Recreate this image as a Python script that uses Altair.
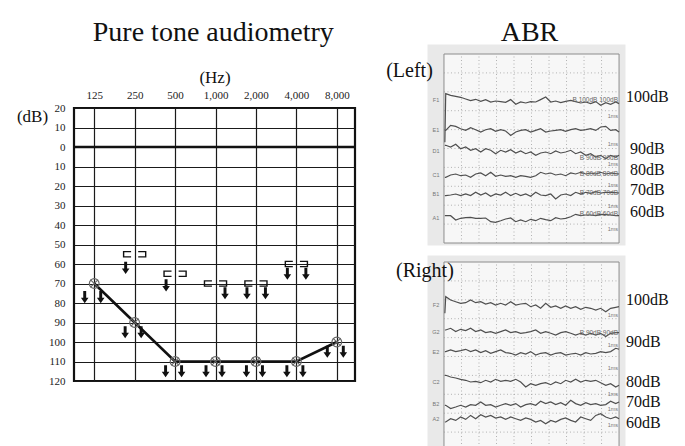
import altair as alt
import pandas as pd

SERIF = "Liberation Serif"

# ---------------- Pure tone audiometry data ----------------
freq_labels = ["125", "250", "500", "1,000", "2,000", "4,000", "8,000"]
freq_octave = [0, 1, 2, 3, 4, 5, 6]
air_db = [70, 90, 110, 110, 110, 110, 100]

bone_octave = [1, 2, 3, 4, 5]
bone_db = [55, 65, 70, 70, 60]

air_arrow_octave = [0, 1, 2, 3, 4, 5, 6]
air_arrow_db = [77, 95, 115, 115, 115, 115, 105]

bone_arrow_octave = [1, 2, 3, 4, 4, 5, 5]
bone_arrow_db = [62, 71, 75, 75, 75, 65, 65]
bone_arrow_side = ["L", "L", "R", "L", "R", "L", "R"]

db_ticks = [-20, -10, 0, 10, 20, 30, 40, 50, 60, 70, 80, 90, 100, 110, 120]

# ---------------- ABR data ----------------
abr_time = [0.05, 0.1, 0.38, 0.67, 0.95, 1.24, 1.52, 1.81, 2.1, 2.38, 2.67, 2.95,
            3.24, 3.52, 3.81, 4.1, 4.38, 4.67, 4.95, 5.24, 5.52, 5.81, 6.1, 6.38,
            6.67, 6.95, 7.24, 7.52, 7.81, 8.1, 8.38, 8.67, 8.95, 9.24, 9.52, 9.81, 10.0]

left_names = ["F1", "E1", "D1", "C1", "B1", "A1"]
left_base = [142.7, 113.3, 92, 68, 48.7, 25]
left_traces = [
    [-42, 6.7, 5, 4, 3, 1.3, -0.3, 1, -1, 0.7, -1.7, -0.7, -1.3, -2, 0.7, -4, -1.7, -2.7, -1.3,
     -1.7, 0.7, 3.3, -1.7, -0.7, -2.3, -1, 0, -1.3, -2.7, -1.7, -3.3, -1.3, -5, -2.3, -4, -1.7, -3.3],
    [-0.7, -0.7, 4.3, 3.3, 1, -0.7, 2, 0, -2.3, 0, 1, -1.7, 0, -1.3, -5.7, -2.3, -0.7, 0, -2.3,
     -0.7, 1, -2.3, -1.3, -0.7, 0, -1.7, 0, 1, -0.7, 0, 1, -0.7, 2.7, 3.3, -0.7, 0, -2.3],
    [5.7, 5.7, 4, 6.7, 2.3, 4, 0.7, 2.3, -1, 2.3, 0.7, -2.7, 0.7, -1, 1.3, -2, 0, -2.7, -1,
     -4.3, -2, -1, -2.7, 0, -2, -1, 0.7, -2.7, -1, -4.3, -2.7, -6, -4.3, -7.7, -4.3, -6, -4.3],
    [-2.3, -2.3, 0, 1, -0.7, 0, -2.3, 1, 2, -0.7, 2.7, -1.3, 0, -1.3, -0.7, -2.3, -0.7, -1.3,
     -2.3, -0.7, 2.7, 1, 2, 0, 1, -0.7, 2, 1, 2.7, 1, 2, 1, 2.7, 1, 2, 1.3, 1],
    [-1.3, -1.3, -0.7, 0.3, -1.3, 0.3, -1.3, 2, -0.7, 1.3, -2, 0.3, -0.7, 2, -1.3, 1, -1.3, 0.3,
     -2, 2, -0.7, -1.3, 0.3, -4.7, -0.7, 0.3, -1.3, 2, 0.3, 2, 1, 2.7, 1.3, 2, 2, 1.7, 1.3],
    [2.3, 2.3, 2.3, -2, -0.3, 0.3, 0.7, -0.3, -0.3, 0, -3.7, -4.3, -2.7, -1, 0, -3.7, -2, -3.7,
     -1.3, -2.7, -0.3, -1.7, -2.7, 0.3, -1, -0.3, 1.3, 3.7, 2.3, 3, 3, 2.3, 3.7, 3.3, 3, 2.3, 2.3],
]

right_names = ["F2", "G2", "E2", "C2", "B2", "A2"]
right_base = [146, 118.7, 98.7, 69, 46.7, 32.3]
right_traces = [
    [-8.3, 8.3, 5, 3.3, 1.7, 2.3, 5, 2.3, 3.3, 1, 2.3, 0, 1.7, 0, 3.3, 0, 1, 1.7, -1.7, 0, -3.3,
     1.7, -2.3, -1, -3.3, -1, -3.3, -1.7, -4.3, -2.3, -3.3, -5, -3.3, -6.7, -3.3, -2.3, -1.7],
    [2.3, 2.3, 4, 0.7, 3, 1.7, 4, 0.7, 2.3, -0.3, 0.7, -1, 0.7, 2.3, -0.3, 0.7, -1, -0.3, 0.7,
     2.3, -1, 0.7, -1, -2.7, -0.3, 0.7, -1, -2.7, -1, -2.7, -1, -2.7, -1, -4.3, -1, -0.3, -0.3],
    [0.7, 0.7, 2.3, 0.7, 1.7, 3, 0.7, 2.3, -0.3, 1.7, -1, 0.7, 2.3, -0.3, -1, -2.7, -0.3, -1.7,
     0.7, -2.7, -1, -0.3, -2.7, -1, -0.3, -2.7, -1.7, -1, -2.7, -0.3, -1.7, -1, 0.7, -0.3, 0.7, 4, 3],
    [6.7, 6.7, 5, 4, 2.7, 1.7, 0, 0.7, -0.7, 1.7, 0, 2.7, 0.7, 1.7, 0.7, 2.7, 0, -5, -1.7, -3.3,
     -1.7, -0.7, -2.7, 0, -1.7, 1.7, 0, 2.7, 0, 1.7, 0.7, 1.7, -0.7, -3.3, -1.7, -5, -3.3],
    [-1, -1, -4.3, -2.7, -1, -2.7, -0.3, -1, 2.3, -1, -0.3, -2.7, -1, 0.7, -1, 0.7, -2.7, -0.3,
     0.7, -1, 3, 0.7, 2.3, -0.3, 1.7, -1, 4, 0.7, -1, 1.7, -0.3, 0.7, -1, -0.3, 3, 0.7, 2.3],
    [-3.3, -3.3, 0, -1.7, 1.7, -0.7, 3.3, 0, 4, 1.7, 3.3, 0.7, 1.7, -0.7, 1.7, 0, -1.7, 0.7,
     -0.7, -3.3, -1.7, -5, -1.7, -3.3, -0.7, 0.7, -1.7, -3.3, 1.7, 0, -1.7, 3.3, 5, 1.7, 0, 1.7, 0],
]

left_db_labels = ["100dB", "90dB", "80dB", "70dB", "60dB"]
left_db_level = [146, 94, 73, 53, 31.5]
left_db_t = [10.4, 10.63, 10.63, 10.63, 10.63]
right_db_labels = ["100dB", "90dB", "80dB", "70dB", "60dB"]
right_db_level = [151, 109.3, 69.3, 49.3, 28]
right_db_t = [10.4, 10.4, 10.4, 10.4, 10.4]

left_stim_text = ["B 100dB 100dB", "B 90dB 90dB", "B 80dB 80dB", "B 70dB 70dB", "B 60dB 60dB"]
left_stim_level = [143.3, 85.3, 69, 50.5, 29.5]
right_stim_text = ["B 90dB 90dB"]
right_stim_level = [118.3]

left_ms_level = [127, 99, 79, 58, 37, 14]
right_ms_level = [136, 106, 83, 57, 42, 26]

frame_ms = [0, 10]
frame_level = [0, 189]
grid_ms = [1, 2, 3, 4, 5, 6, 7, 8, 9]
grid_level = [18.9, 37.8, 56.7, 75.6, 94.5, 113.4, 132.3, 151.2, 170.1]

# ---------------- Audiogram chart ----------------
x_scale = alt.Scale(domain=[-0.5, 6.45], nice=False, zero=False)
y_scale = alt.Scale(domain=[-20, 120], reverse=True, nice=False, zero=False)
label_expr = "[" + ",".join("'" + s + "'" for s in freq_labels) + "][datum.value]"

x_axis = alt.Axis(orient="top", values=freq_octave, labelExpr=label_expr, grid=True,
                  gridColor="#1a1a1a", gridWidth=1.2, gridOpacity=1, ticks=False, domain=False,
                  labelFont=SERIF, labelFontSize=11, labelColor="#222", labelPadding=8,
                  title="(Hz)", titleFont=SERIF, titleFontSize=17, titleFontWeight="normal",
                  titleColor="#111", titlePadding=3)
y_axis = alt.Axis(values=db_ticks, labelExpr="abs(datum.value)", grid=True,
                  gridColor="#1a1a1a", gridWidth=1.2, gridOpacity=1, ticks=False, domain=False,
                  labelFont=SERIF, labelFontSize=11, labelColor="#222", labelPadding=9,
                  title="(dB)", titleFont=SERIF, titleFontSize=17, titleFontWeight="normal",
                  titleColor="#111", titleAngle=0, titleAlign="center", titleBaseline="middle",
                  titleX=-42, titleY=8)

X = alt.X("oct:Q", scale=x_scale, axis=x_axis)
Y = alt.Y("db:Q", scale=y_scale, axis=y_axis)

air_df = pd.DataFrame({"oct": freq_octave, "db": air_db})
bone_df = pd.DataFrame({"oct": bone_octave, "db": bone_db})
air_arrow_df = pd.DataFrame({"oct": air_arrow_octave, "db": air_arrow_db})
bone_arrow_df = pd.DataFrame({"oct": bone_arrow_octave, "db": bone_arrow_db, "side": bone_arrow_side})

ARROW = "M -0.24 -1 L 0.24 -1 L 0.24 0.1 L 0.62 0.1 L 0 1 L -0.62 0.1 L -0.24 0.1 Z"
XSHAPE = "M -1 -1 L 1 1 M -1 1 L 1 -1"
LBR = "M 1 -0.7 L -1 -0.7 L -1 0.7 L 1 0.7"
RBR = "M -1 -0.7 L 1 -0.7 L 1 0.7 L -1 0.7"

zero_rule = alt.Chart(pd.DataFrame({"db": [0]})).mark_rule(color="#111", strokeWidth=2.4).encode(y=Y)
air_line = alt.Chart(air_df).mark_line(color="#111", strokeWidth=2.6).encode(x=X, y=Y)
air_circ = alt.Chart(air_df).mark_point(shape="circle", size=95, filled=False, stroke="#666",
                                        strokeWidth=1.2, opacity=1).encode(x=X, y=Y)
air_x = alt.Chart(air_df).mark_point(shape=XSHAPE, size=60, filled=False, stroke="#666",
                                     strokeWidth=1.1, opacity=1).encode(x=X, y=Y)
br_l = alt.Chart(bone_df).mark_point(shape=LBR, size=56, filled=False, stroke="#111",
                                     strokeWidth=1.4, opacity=1, xOffset=-7.3).encode(x=X, y=Y)
br_r = alt.Chart(bone_df).mark_point(shape=RBR, size=56, filled=False, stroke="#111",
                                     strokeWidth=1.4, opacity=1, xOffset=7.3).encode(x=X, y=Y)
arr_style = dict(shape=ARROW, size=150, filled=True, color="#111", opacity=1)
air_arr_l = alt.Chart(air_arrow_df).mark_point(xOffset=-9.5, **arr_style).encode(x=X, y=Y)
air_arr_r = alt.Chart(air_arrow_df).mark_point(xOffset=6.5, **arr_style).encode(x=X, y=Y)
bone_arr_l = alt.Chart(bone_arrow_df[bone_arrow_df.side == "L"]).mark_point(
    xOffset=-9, **arr_style).encode(x=X, y=Y)
bone_arr_r = alt.Chart(bone_arrow_df[bone_arrow_df.side == "R"]).mark_point(
    xOffset=9.5, **arr_style).encode(x=X, y=Y)

audiogram = alt.layer(
    zero_rule, air_line, air_circ, air_x, br_l, br_r, air_arr_l, air_arr_r, bone_arr_l, bone_arr_r
).properties(
    width=281, height=273,
    view=alt.ViewBackground(stroke="#111", strokeWidth=2.2),
)

spacer = alt.Chart(pd.DataFrame({"a": [0]})).mark_rule(opacity=0).encode(
    x=alt.value(0), x2=alt.value(1), y=alt.value(0)
).properties(width=281, height=1, view=alt.ViewBackground(stroke="transparent"))

TITLE_SIZE = 28
left_col = alt.vconcat(spacer, audiogram, spacing=20).properties(
    title=alt.TitleParams("Pure tone audiometry", font=SERIF, fontSize=TITLE_SIZE,
                          fontWeight="normal", color="#111", frame="bounds", anchor="middle",
                          offset=-3, dx=27))


# ---------------- ABR panels ----------------
def abr_panel(names, bases, traces, db_labels, db_levels, db_t, stim_text, stim_level,
              ms_level, side_label, side_t, side_level, y_domain, height):
    xs = alt.Scale(domain=[-0.97, 10.34], nice=False, zero=False)
    ys = alt.Scale(domain=y_domain, nice=False, zero=False)

    def XE(f):
        return alt.X(f, scale=xs, axis=None)

    def YE(f):
        return alt.Y(f, scale=ys, axis=None)

    rows = []
    for name, base, vals in zip(names, bases, traces):
        for t, v in zip(abr_time, vals):
            rows.append({"t": t, "v": base + v, "trace": name})
    tr_df = pd.DataFrame(rows)

    frame = alt.Chart(pd.DataFrame({"t0": [frame_ms[0]], "t1": [frame_ms[1]],
                                    "v0": [frame_level[0]], "v1": [frame_level[1]]})).mark_rect(
        fill="#f7f7f7", stroke="#8c8c8c", strokeWidth=1).encode(
        x=XE("t0:Q"), x2="t1:Q", y=YE("v0:Q"), y2="v1:Q")
    vgrid = alt.Chart(pd.DataFrame({"t": grid_ms, "a": frame_level[0], "b": frame_level[1]})).mark_rule(
        color="#a0a0a0", strokeWidth=0.8, strokeDash=[1, 2.5]).encode(
        x=XE("t:Q"), y=YE("a:Q"), y2="b:Q")
    hgrid = alt.Chart(pd.DataFrame({"v": grid_level, "a": frame_ms[0], "b": frame_ms[1]})).mark_rule(
        color="#a0a0a0", strokeWidth=0.8, strokeDash=[1, 2.5]).encode(
        y=YE("v:Q"), x=XE("a:Q"), x2="b:Q")
    lines = alt.Chart(tr_df).mark_line(color="#4f4f4f", strokeWidth=1.2).encode(
        x=XE("t:Q"), y=YE("v:Q"), detail="trace:N", order="t:Q")
    names_txt = alt.Chart(pd.DataFrame({"name": names, "v": bases, "t": frame_ms[0]})).mark_text(
        fontSize=5.5, color="#777", align="center", baseline="middle", font="Liberation Sans",
        dx=-8).encode(x=XE("t:Q"), y=YE("v:Q"), text="name:N")
    stim_txt = alt.Chart(pd.DataFrame({"s": stim_text, "v": stim_level, "t": frame_ms[1]})).mark_text(
        fontSize=6.5, color="#666", align="right", baseline="middle", font="Liberation Sans",
        dx=-1).encode(x=XE("t:Q"), y=YE("v:Q"), text="s:N")
    ms_txt = alt.Chart(pd.DataFrame({"v": ms_level, "t": frame_ms[1], "s": "1ms"})).mark_text(
        fontSize=5.5, color="#777", align="right", baseline="middle", font="Liberation Sans",
        dx=-1).encode(x=XE("t:Q"), y=YE("v:Q"), text="s:N")
    db_txt = alt.Chart(pd.DataFrame({"s": db_labels, "v": db_levels, "t": db_t})).mark_text(
        fontSize=16, color="#111", align="left", baseline="middle", font=SERIF).encode(
        x=XE("t:Q"), y=YE("v:Q"), text="s:N")
    side_txt = alt.Chart(pd.DataFrame({"s": [side_label], "v": [side_level], "t": [side_t]})).mark_text(
        fontSize=20, color="#111", align="left", baseline="middle", font=SERIF).encode(
        x=XE("t:Q"), y=YE("v:Q"), text="s:N")

    return alt.layer(frame, vgrid, hgrid, lines, names_txt, stim_txt, ms_txt, db_txt, side_txt).properties(
        width=198, height=height,
        view=alt.ViewBackground(fill="#e9e9e9", stroke="transparent"))


abr_left = abr_panel(left_names, left_base, left_traces, left_db_labels, left_db_level, left_db_t,
                     left_stim_text, left_stim_level, left_ms_level, "(Left)", -3.3, 172,
                     [-2, 199], 201)
abr_right = abr_panel(right_names, right_base, right_traces, right_db_labels, right_db_level,
                      right_db_t, right_stim_text, right_stim_level, right_ms_level, "(Right)",
                      -2.74, 180, [-4, 196], 200)

abr_col = alt.vconcat(abr_left, abr_right, spacing=8).properties(
    title=alt.TitleParams("ABR", font=SERIF, fontSize=TITLE_SIZE, fontWeight="normal",
                          color="#111", frame="bounds", anchor="middle", offset=-3, dx=2))

chart = alt.concat(left_col, abr_col, columns=2, spacing=27, align="none").properties(
    padding={"left": 7, "top": 10, "right": 0, "bottom": 0}
).configure(font=SERIF)

chart.save("out.html", embed_options={"renderer": "svg", "actions": False})
